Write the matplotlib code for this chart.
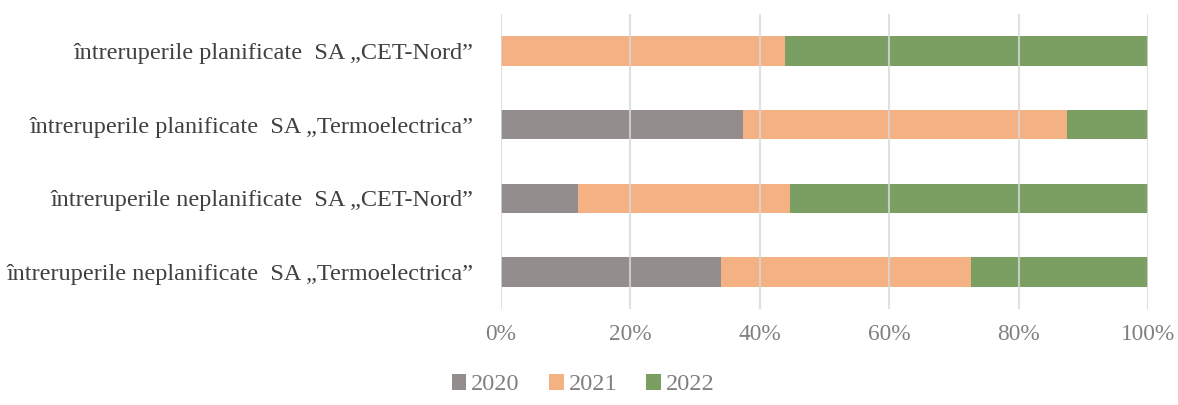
import numpy as np
from matplotlib import pyplot as plt

plt.rcParams['font.family'] = ['Liberation Serif', 'DejaVu Serif']

# categories bottom -> top
categories = ['întreruperile neplanificate  SA „Termoelectrica”',
              'întreruperile neplanificate  SA „CET-Nord”',
              'întreruperile planificate  SA „Termoelectrica”',
              'întreruperile planificate  SA „CET-Nord”']
years = ['2020', '2021', '2022']
share_2020 = [34.0, 11.9, 37.4, 0.0]
share_2021 = [38.6, 32.8, 50.1, 43.9]
share_2022 = [27.4, 55.3, 12.5, 56.1]
colors = ['#938d8d', '#f4b183', '#7b9f63']

fig = plt.figure(figsize=(11.78, 4.05), dpi=100)
ax = fig.add_axes([0.4253, 0.237, 0.5492, 0.7284])

y = np.arange(len(categories))
left = np.zeros(len(categories))
for vals, lab, c in zip([share_2020, share_2021, share_2022], years, colors):
    vals = np.array(vals)
    ax.barh(y, vals, left=left, height=0.4, color=c, label=lab, zorder=2)
    left += vals

ax.set_xlim(0, 100)
ax.set_ylim(-0.5, 3.5)
ax.set_xticks(np.arange(0, 101, 20))
ax.set_xticklabels([f'{v}%' for v in range(0, 101, 20)])
ax.set_yticks(y)
ax.set_yticklabels(categories)
ax.xaxis.grid(True, color='#d9d9d9', linewidth=1.5, zorder=3, alpha=0.8)
ax.set_axisbelow(False)
for s in ax.spines.values():
    s.set_visible(False)
ax.tick_params(axis='both', length=0)
ax.tick_params(axis='x', labelsize=16.8, labelcolor='#808080', pad=11)
ax.tick_params(axis='y', labelsize=17.5, labelcolor='#404040', pad=20)

fig.legend(loc='center', bbox_to_anchor=(0.495, 0.05), ncol=3, frameon=False,
           fontsize=17.5, handlelength=0.6, handleheight=0.6, handletextpad=0.2,
           columnspacing=1.2, labelcolor='#808080')

fig.savefig('out.png', dpi=100)
